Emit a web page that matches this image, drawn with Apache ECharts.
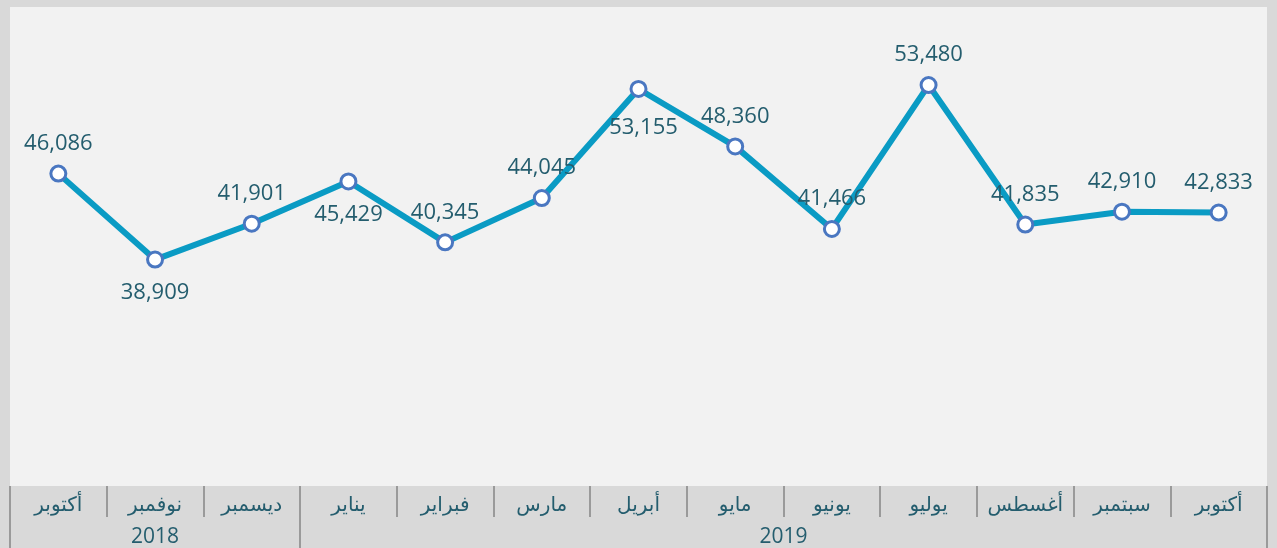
<!DOCTYPE html>
<html>
<head>
<meta charset="utf-8">
<script src="https://cdn.jsdelivr.net/npm/echarts@6/dist/echarts.min.js"></script>
<style>
  html, body { margin: 0; padding: 0; background: #d9d9d9; }
  #chart { width: 1277px; height: 548px; }
</style>
</head>
<body>
<div id="chart"></div>
<script>
const months = ["أكتوبر", "نوفمبر", "ديسمبر", "يناير", "فبراير", "مارس", "أبريل", "مايو", "يونيو", "يوليو", "أغسطس", "سبتمبر", "أكتوبر"];
const values = [46086, 38909, 41901, 45429, 40345, 44045, 53155, 48360, 41466, 53480, 41835, 42910, 42833];
const labelSide = ["top", "bottom", "top", "bottom", "top", "top", "bottom", "top", "top", "top", "top", "top", "top"];
const years = ["2018", "2019"];
// year label sits at the middle of its month span, separators at span edges
const yearCenters = [1, 7.5];
const yearEdges = [-0.5, 2.5, 12.5];

const chart = echarts.init(document.getElementById("chart"));
const textColor = "#245d6e";
const sepColor = "#9a9a9a";

const option = {
    backgroundColor: "#d9d9d9",
    grid: {
        left: 10,
        right: 10,
        top: 7,
        bottom: 62,
        show: true,
        backgroundColor: "#f2f2f2",
        borderWidth: 0,
    },
    xAxis: [
        {
            type: "category",
            data: months,
            position: "bottom",
            axisLine: { show: false },
            axisTick: {
                show: true,
                interval: 0,
                length: 31,
                lineStyle: { color: sepColor, width: 2 },
            },
            axisLabel: {
                interval: 0,
                margin: 9,
                fontSize: 20,
                color: textColor,
                fontFamily: "'Noto Sans', 'DejaVu Sans', sans-serif",
            },
        },
        {
            type: "value",
            min: -0.5,
            max: 12.5,
            position: "bottom",
            offset: 31,
            axisLine: { show: false },
            splitLine: { show: false },
            axisTick: {
                show: true,
                customValues: yearEdges,
                length: 32,
                lineStyle: { color: sepColor, width: 2 },
            },
            axisLabel: {
                customValues: yearCenters,
                margin: 10,
                fontSize: 21,
                color: textColor,
                fontFamily: "'Open Sans', sans-serif",
                formatter: (v) => years[yearCenters.indexOf(v)],
            },
        },
    ],
    yAxis: {
        type: "value",
        min: 20000,
        max: 60000,
        show: false,
        splitLine: { show: false },
    },
    series: [
        {
            type: "line",
            xAxisIndex: 0,
            data: values.map((v, i) => ({
                value: v,
                label: {
                    position: labelSide[i],
                    distance: i === 6 ? 19 : (labelSide[i] === "bottom" ? 13 : 10),
                    offset: i === 6 ? [5, 0] : [0, 0],
                },
            })),
            lineStyle: { color: "#0a9bc4", width: 6 },
            symbol: "circle",
            symbolSize: 15,
            itemStyle: {
                color: "#ffffff",
                borderColor: "#4a77c1",
                borderWidth: 3,
            },
            label: {
                show: true,
                fontSize: 22,
                color: textColor,
                fontFamily: "'Open Sans', sans-serif",
                formatter: (p) => p.value.toLocaleString("en-US"),
            },
            z: 3,
        },
    ],
};

chart.setOption(option);
</script>
</body>
</html>
